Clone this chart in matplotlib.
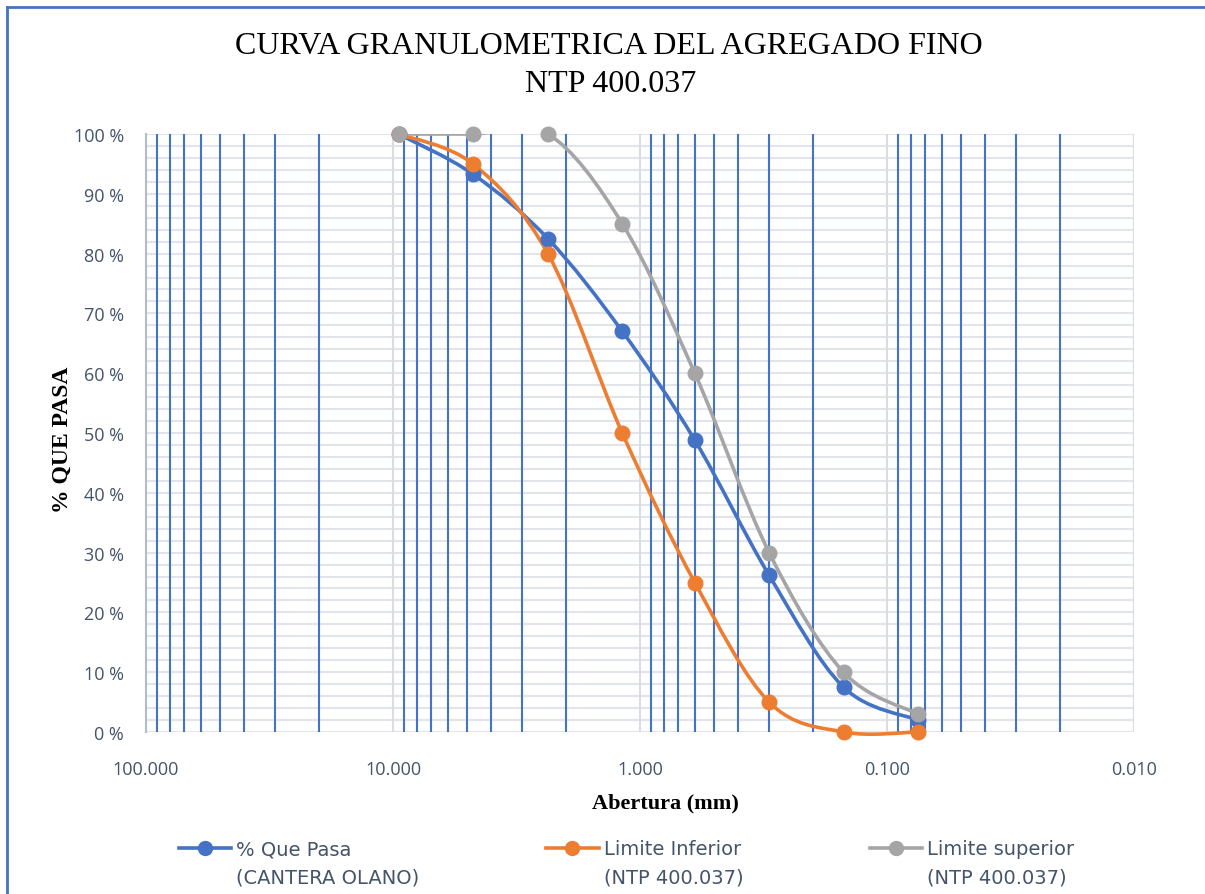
import numpy as np
import matplotlib
matplotlib.use("Agg")
import matplotlib.pyplot as plt
from matplotlib.lines import Line2D
from matplotlib.path import Path
from matplotlib.patches import PathPatch, Rectangle
from matplotlib.legend_handler import HandlerLine2D
from matplotlib.ticker import FixedLocator, FuncFormatter, NullFormatter

# tamices (mm) y porcentajes que pasan
aberturas = [9.5, 4.75, 2.36, 1.18, 0.6, 0.3, 0.15, 0.075]
que_pasa = [100, 93.3, 82.5, 67.0, 48.8, 26.2, 7.5, 2.0]
lim_inf = [100, 95, 80, 50, 25, 5, 0, 0]
lim_sup = [100, 100, 100, 85, 60, 30, 10, 3]

series = [
    ("% Que Pasa\n(CANTERA OLANO)", que_pasa, "#4472C4"),
    ("Limite Inferior\n(NTP 400.037)", lim_inf, "#ED7D31"),
    ("Limite superior\n(NTP 400.037)", lim_sup, "#A5A5A5"),
]

TXT = "#44546A"


def smooth_path(xs, ys):
    # curva suavizada tipo Excel (bezier Catmull-Rom en espacio log-x)
    u = np.log10(np.asarray(xs, float))
    v = np.asarray(ys, float)
    P = np.column_stack([u, v])
    n = len(P)
    verts = [P[0]]
    codes = [Path.MOVETO]
    for i in range(n - 1):
        p0 = P[i - 1] if i > 0 else P[i]
        p1, p2 = P[i], P[i + 1]
        p3 = P[i + 2] if i + 2 < n else P[i + 1]
        verts += [p1 + (p2 - p0) / 6.0, p2 - (p3 - p1) / 6.0, p2]
        codes += [Path.CURVE4] * 3
    verts = np.array(verts)
    verts[:, 0] = 10 ** verts[:, 0]
    return Path(verts, codes)


class FirstLineHandler(HandlerLine2D):
    # sube el simbolo a la altura de la primera linea del texto
    def create_artists(self, legend, orig_handle, xdescent, ydescent, width, height,
                       fontsize, trans):
        arts = super().create_artists(legend, orig_handle, xdescent, ydescent, width,
                                      height, fontsize, trans)
        for a in arts:
            a.set_ydata(np.asarray(a.get_ydata()) + 0.8 * fontsize)
        return arts


fig = plt.figure(figsize=(12.05, 8.95), dpi=100)
ax = fig.add_axes([146 / 1205, 1 - 733 / 895, (1134 - 146) / 1205, (733 - 135) / 895])

ax.set_xscale("log")
ax.set_xlim(100, 0.01)
ax.set_ylim(0, 100)

decades = [100, 10, 1, 0.1, 0.01]
minors = [m * d for d in [10, 1, 0.1, 0.01] for m in range(2, 10)]
ax.xaxis.set_major_locator(FixedLocator(decades))
ax.xaxis.set_minor_locator(FixedLocator(minors))
ax.xaxis.set_major_formatter(FuncFormatter(lambda x, p: f"{x:.3f}"))
ax.xaxis.set_minor_formatter(NullFormatter())
ax.yaxis.set_major_locator(FixedLocator(range(0, 101, 10)))
ax.yaxis.set_minor_locator(FixedLocator(range(0, 101, 2)))
ax.yaxis.set_major_formatter(FuncFormatter(lambda y, p: f"{int(y)} %"))

ax.grid(True, which="major", axis="x", color="#D9DDE3", lw=1.5)
ax.grid(True, which="minor", axis="x", color="#4472C4", lw=1.5)
ax.grid(True, which="both", axis="y", color="#E1E4E8", lw=1.5)
ax.set_axisbelow(True)
ax.yaxis.set_zorder(0.4)
ax.xaxis.set_zorder(0.6)

for s in ["top", "right", "bottom"]:
    ax.spines[s].set_visible(False)
ax.spines["left"].set_color("#B4BCC8")
ax.spines["left"].set_linewidth(1.5)

ax.tick_params(which="both", length=0)
ax.tick_params(axis="y", pad=16, labelsize=13, labelcolor=TXT)
ax.tick_params(axis="x", pad=20, labelsize=13, labelcolor=TXT)
for lab in ax.get_xticklabels() + ax.get_yticklabels():
    lab.set_family(["Open Sans", "DejaVu Sans"])

# recorte del area de trazado (abajo deja ver el grosor de la linea)
clip = Rectangle((0, -0.012), 1, 1.012, transform=ax.transAxes, visible=False)
ax.add_artist(clip)

handles = []
for label, vals, color in series:
    patch = PathPatch(smooth_path(aberturas, vals), fill=False, edgecolor=color,
                      lw=2.6, capstyle="round", joinstyle="round", zorder=3)
    ax.add_patch(patch)
    patch.set_clip_path(clip)
    ax.plot(aberturas, vals, "o", color=color, ms=10.5, zorder=4, clip_on=False)
    handles.append(Line2D([], [], color=color, lw=2.6, marker="o", ms=10, label=label))

fig.text(0.505, 1 - 47 / 895, "CURVA GRANULOMETRICA DEL AGREGADO FINO",
         ha="center", va="center", fontsize=23, family="Liberation Serif")
fig.text(0.507, 1 - 84 / 895, "NTP 400.037",
         ha="center", va="center", fontsize=23, family="Liberation Serif")
fig.text(62 / 1205, 1 - 440 / 895, "% QUE PASA", rotation=90, ha="center", va="center",
         fontsize=17, fontweight="bold", family="Liberation Serif")
fig.text(665 / 1205, 1 - 803 / 895, "Abertura (mm)", ha="center", va="center",
         fontsize=16, fontweight="bold", family="Liberation Serif")

leg = fig.legend(handles=handles, loc="lower center", bbox_to_anchor=(0.52, -0.011),
                 ncol=3, frameon=False, handlelength=2.7, handletextpad=0.26,
                 columnspacing=6.5, labelspacing=0.3,
                 handler_map={Line2D: FirstLineHandler()},
                 prop={"family": ["DejaVu Sans"], "size": 14})
for t in leg.get_texts():
    t.set_color(TXT)
    t.set_linespacing(1.6)

# borde de la figura
fig.add_artist(Line2D([7 / 1205, 7 / 1205], [0, 1 - 8 / 895], transform=fig.transFigure,
                      color="#4472C4", lw=2))
fig.add_artist(Line2D([7 / 1205, 1], [1 - 8 / 895, 1 - 8 / 895], transform=fig.transFigure,
                      color="#4472C4", lw=2))

fig.savefig("out.png", dpi=100, facecolor="white")
